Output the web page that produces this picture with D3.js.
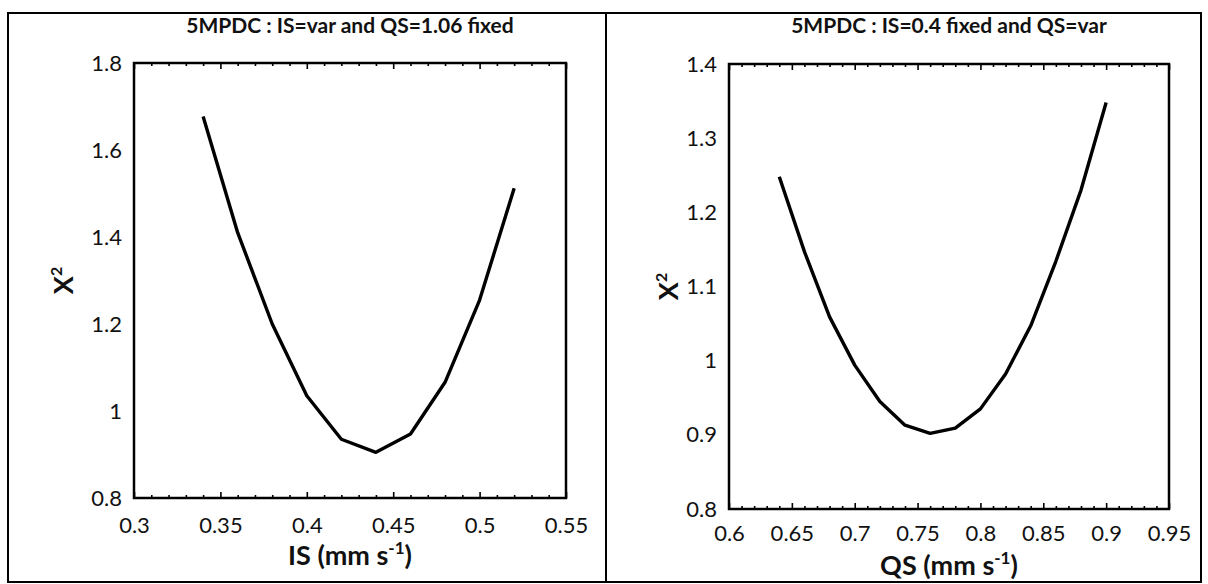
<!DOCTYPE html>
<html>
<head>
<meta charset="utf-8">
<script src="https://cdn.jsdelivr.net/npm/d3@7"></script>
<style>
  body { margin: 0; background: #fff; }
  svg text { font-family: Lato, "Open Sans", sans-serif; fill: #111; }
</style>
</head>
<body>
<div class="chart"></div>
<script>
// Data
var isValues = [0.34, 0.36, 0.38, 0.40, 0.42, 0.44, 0.46, 0.48, 0.50, 0.52];
var isChi2 = [1.677, 1.41, 1.20, 1.035, 0.935, 0.905, 0.947, 1.066, 1.255, 1.512];

var qsValues = [0.64, 0.66, 0.68, 0.70, 0.72, 0.74, 0.76, 0.78, 0.80, 0.82, 0.84, 0.86, 0.88, 0.90];
var qsChi2 = [1.248, 1.147, 1.059, 0.994, 0.945, 0.913, 0.902, 0.909, 0.935, 0.982, 1.047, 1.134, 1.23, 1.348];

var isTicksX = [0.3, 0.35, 0.4, 0.45, 0.5, 0.55];
var isTicksY = [0.8, 1, 1.2, 1.4, 1.6, 1.8];
var qsTicksX = [0.6, 0.65, 0.7, 0.75, 0.8, 0.85, 0.9, 0.95];
var qsTicksY = [0.8, 0.9, 1, 1.1, 1.2, 1.3, 1.4];

var titles = ["5MPDC : IS=var and QS=1.06 fixed", "5MPDC : IS=0.4 fixed and QS=var"];
var xTitles = ["IS", "QS"];

// Set Parms
var svgWidth = 1208;
var svgHeight = 584;

var svg = d3.select(".chart")
  .append("svg")
  .attr("width", svgWidth)
  .attr("height", svgHeight);

// outer frames
svg.append("rect")
  .attr("x", 8).attr("y", 13).attr("width", 598).attr("height", 569)
  .attr("fill", "none").attr("stroke", "#000").attr("stroke-width", 2);
svg.append("rect")
  .attr("x", 606).attr("y", 13).attr("width", 595).attr("height", 569)
  .attr("fill", "none").attr("stroke", "#000").attr("stroke-width", 2);

function minorTicks(domain) {
  var out = [];
  var n = Math.round((domain[1] - domain[0]) / 0.01);
  for (var i = 0; i <= n; i++) {
    if (i % 5 != 0) out.push(domain[0] + i * 0.01);
  }
  return out;
}

function drawPanel(p) {
  var x = d3.scaleLinear().domain(p.xDomain).range([p.left, p.right]);
  var y = d3.scaleLinear().domain(p.yDomain).range([p.bottom, p.top]);

  var g = svg.append("g");

  // bottom axis, ticks pointing inward
  g.append("g")
    .attr("transform", "translate(0," + p.bottom + ")")
    .call(d3.axisBottom(x).tickValues(p.ticksX).tickSizeInner(-6).tickSizeOuter(0)
      .tickPadding(p.xPad).tickFormat(function(d) { return String(d); }))
    .call(function(a) {
      a.select(".domain").remove();
      a.selectAll("line").attr("stroke-width", 1.6);
      a.selectAll("text").style("font-size", "22px");
    });
  g.append("g")
    .attr("transform", "translate(0," + p.bottom + ")")
    .call(d3.axisBottom(x).tickValues(minorTicks(p.xDomain)).tickSizeInner(-3).tickSizeOuter(0).tickFormat(""))
    .call(function(a) {
      a.select(".domain").remove();
      a.selectAll("line").attr("stroke-width", 1.6);
    });

  // top axis mirror
  g.append("g")
    .attr("transform", "translate(0," + p.top + ")")
    .call(d3.axisTop(x).tickValues(p.ticksX).tickSizeInner(-6).tickSizeOuter(0).tickFormat(""))
    .call(function(a) {
      a.select(".domain").remove();
      a.selectAll("line").attr("stroke-width", 1.6);
    });
  g.append("g")
    .attr("transform", "translate(0," + p.top + ")")
    .call(d3.axisTop(x).tickValues(minorTicks(p.xDomain)).tickSizeInner(-3).tickSizeOuter(0).tickFormat(""))
    .call(function(a) {
      a.select(".domain").remove();
      a.selectAll("line").attr("stroke-width", 1.6);
    });

  // left axis, labels only
  g.append("g")
    .attr("transform", "translate(" + p.left + ",0)")
    .call(d3.axisLeft(y).tickValues(p.ticksY).tickSize(0).tickPadding(12)
      .tickFormat(function(d) { return String(d); }))
    .call(function(a) {
      a.select(".domain").remove();
      a.selectAll("text").style("font-size", "22px");
    });

  // plot box
  g.append("rect")
    .attr("x", p.left).attr("y", p.top)
    .attr("width", p.right - p.left).attr("height", p.bottom - p.top)
    .attr("fill", "none").attr("stroke", "#000").attr("stroke-width", 2.5);

  // curve
  var line = d3.line()
    .x(function(d) { return x(d[0]); })
    .y(function(d) { return y(d[1]); });
  g.append("path")
    .datum(d3.zip(p.xs, p.ys))
    .attr("d", line)
    .attr("fill", "none")
    .attr("stroke", "#000")
    .attr("stroke-width", 3.4)
    .attr("stroke-linejoin", "round");

  // title
  g.append("text")
    .attr("x", (p.left + p.right) / 2)
    .attr("y", 33)
    .attr("text-anchor", "middle")
    .style("font-size", "21px")
    .style("font-weight", "bold")
    .text(p.title);

  // x title with superscript
  var xt = g.append("text")
    .attr("x", (p.left + p.right) / 2)
    .attr("y", p.xTitleY)
    .attr("text-anchor", "middle")
    .style("font-size", "27px")
    .style("font-weight", "bold");
  xt.append("tspan").text(p.xTitle + " (mm s");
  xt.append("tspan").attr("dy", -11).style("font-size", "17px").text("-1");
  xt.append("tspan").attr("dy", 11).text(")");

  // y title X^2
  var yt = g.append("text")
    .attr("transform", "translate(" + p.yTitleX + "," + ((p.top + p.bottom) / 2) + ") rotate(-90)")
    .attr("text-anchor", "middle")
    .style("font-size", "27px")
    .style("font-weight", "bold");
  yt.append("tspan").text("X");
  yt.append("tspan").attr("dy", -11).style("font-size", "16px").text("2");
}

drawPanel({
  left: 134, right: 566, top: 63, bottom: 498,
  xDomain: [0.3, 0.55], yDomain: [0.8, 1.8],
  ticksX: isTicksX, ticksY: isTicksY,
  xs: isValues, ys: isChi2,
  title: titles[0], xTitle: xTitles[0], yTitleX: 73, xTitleY: 565, xPad: 19
});

drawPanel({
  left: 729, right: 1169, top: 64, bottom: 509,
  xDomain: [0.6, 0.95], yDomain: [0.8, 1.4],
  ticksX: qsTicksX, ticksY: qsTicksY,
  xs: qsValues, ys: qsChi2,
  title: titles[1], xTitle: xTitles[1], yTitleX: 678, xTitleY: 575, xPad: 16
});
</script>
</body>
</html>
